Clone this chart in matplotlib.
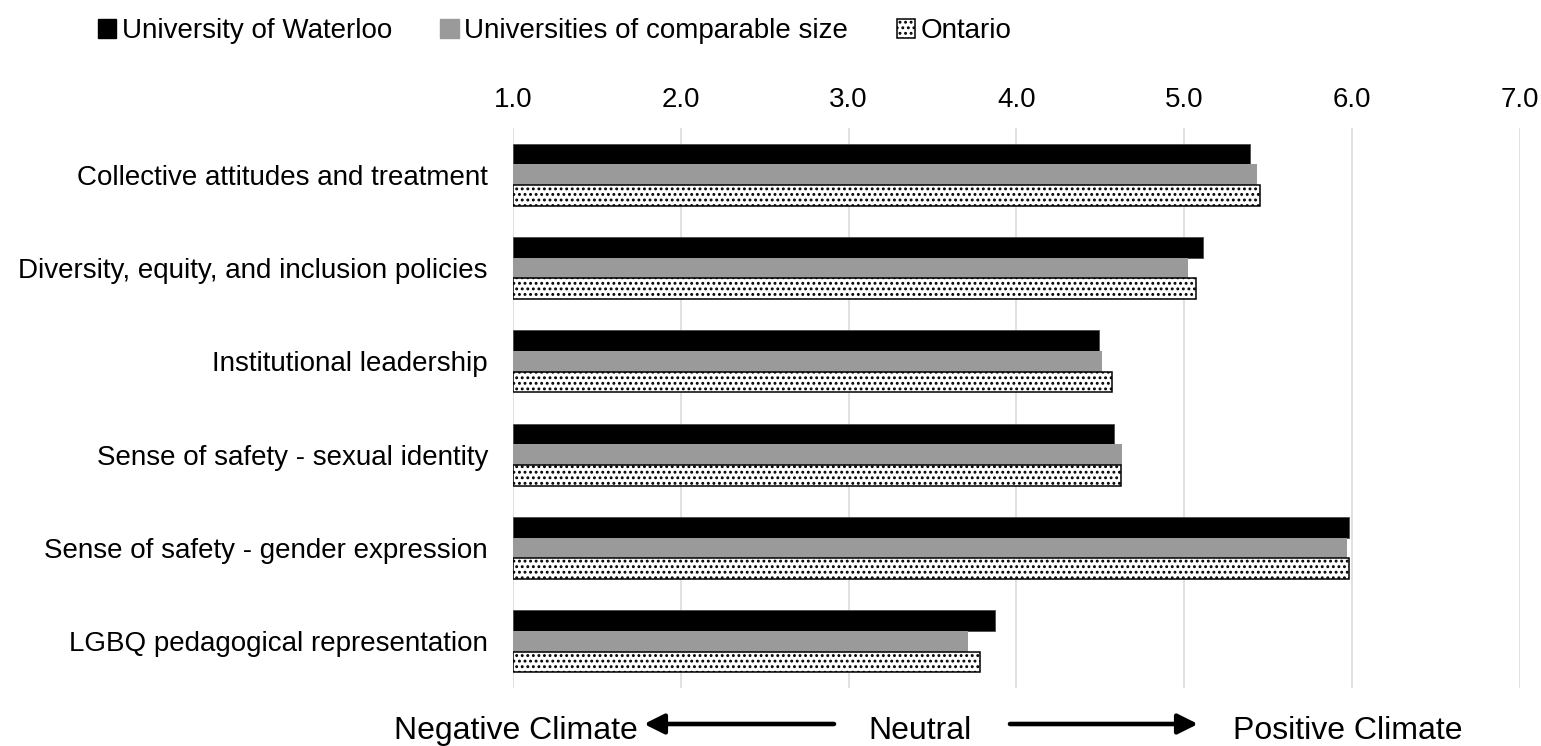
import numpy as np
import matplotlib
matplotlib.use("Agg")
import matplotlib.pyplot as plt
from matplotlib.patches import Patch, FancyArrowPatch

plt.rcParams['font.family'] = ['Liberation Sans', 'DejaVu Sans']
plt.rcParams['hatch.linewidth'] = 1.3

# data
categories = [
    "Collective attitudes and treatment",
    "Diversity, equity, and inclusion policies",
    "Institutional leadership",
    "Sense of safety - sexual identity",
    "Sense of safety - gender expression",
    "LGBQ pedagogical representation",
]
waterloo = [5.39, 5.11, 4.49, 4.58, 5.98, 3.87]
comparable = [5.43, 5.02, 4.51, 4.63, 5.97, 3.71]
ontario = [5.45, 5.07, 4.57, 4.62, 5.98, 3.78]
series_names = ["University of Waterloo", "Universities of comparable size", "Ontario"]
xticks = [1, 2, 3, 4, 5, 6, 7]

W, H = 1541, 746
fig = plt.figure(figsize=(W / 100, H / 100), dpi=100)
ax = fig.add_axes([513 / W, 1 - 688 / H, (1520 - 513) / W, 560 / H])

y = np.arange(len(categories))
h = 0.222
base = 1.0
ax.barh(y - h, np.array(waterloo) - base, left=base, height=h, color="black",
        edgecolor="#404040", linewidth=0.5, zorder=3)
ax.barh(y, np.array(comparable) - base, left=base, height=h, color="#9a9a9a",
        linewidth=0, zorder=3)
ax.barh(y + h, np.array(ontario) - base, left=base, height=h, color="white",
        edgecolor="black", hatch="...", linewidth=1.1, zorder=3)

ax.set_xlim(1, 7)
ax.set_ylim(len(categories) - 0.5, -0.5)
ax.set_yticks(y)
ax.set_yticklabels(categories, fontsize=20)
ax.xaxis.tick_top()
ax.set_xticks(xticks)
ax.set_xticklabels(["%.1f" % t for t in xticks], fontsize=20)
ax.tick_params(axis="both", length=0)
ax.tick_params(axis="x", pad=11)
ax.tick_params(axis="y", pad=18)
ax.grid(axis="x", color="#d9d9d9", linewidth=1.1, zorder=0)
for s in ax.spines.values():
    s.set_visible(False)

handles = [
    Patch(facecolor="black", edgecolor="black"),
    Patch(facecolor="#9a9a9a", edgecolor="#9a9a9a"),
    Patch(facecolor="white", edgecolor="black", hatch="...", linewidth=1.1),
]
fig.legend(handles, series_names, loc="center left", bbox_to_anchor=(98 / W, 1 - 31 / H),
           ncol=3, frameon=False, fontsize=20, handlelength=0.65, handleheight=0.65,
           handletextpad=0.2, columnspacing=1.75, borderpad=0, borderaxespad=0)

# bottom direction labels
ty = 7
fig.text(638 / W, ty / H, "Negative Climate", fontsize=23, ha="right", va="baseline")
fig.text(920 / W, ty / H, "Neutral", fontsize=23, ha="center", va="baseline")
fig.text(1233 / W, ty / H, "Positive Climate", fontsize=23, ha="left", va="baseline")
ay = 22
arrow = dict(arrowstyle="-|>,head_length=0.6,head_width=0.3", lw=3.3, color="black",
             mutation_scale=20, shrinkA=0, shrinkB=0)
fig.add_artist(FancyArrowPatch((834, ay), (644, ay), transform=None, **arrow))
fig.add_artist(FancyArrowPatch((1010, ay), (1198, ay), transform=None, **arrow))

fig.savefig("out.png", dpi=100)
